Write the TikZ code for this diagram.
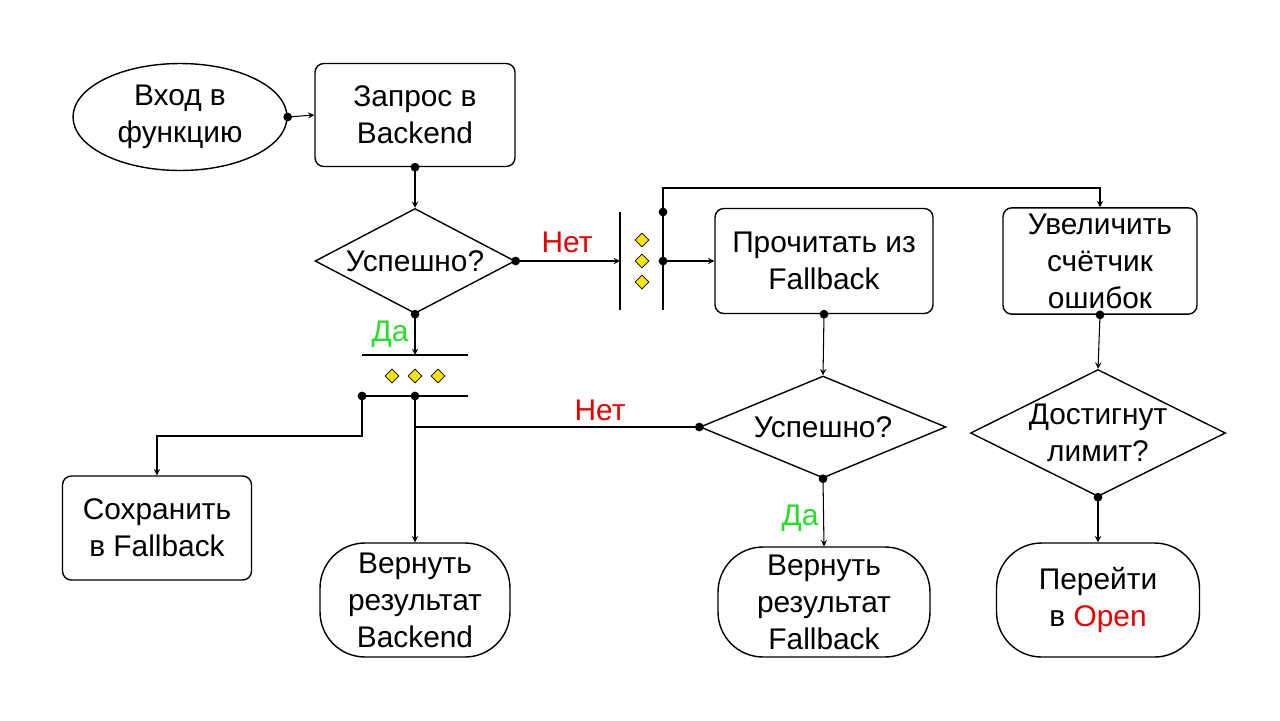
\documentclass[tikz,border=0pt]{standalone}
\usepackage{fontspec}
\setmainfont{Liberation Sans}
\usetikzlibrary{positioning,calc,shapes.geometric}
\definecolor{nored}{RGB}{230,0,0}
\definecolor{dagreen}{RGB}{40,220,40}
\definecolor{dotyel}{RGB}{250,230,0}
\tikzset{
	box/.style={draw=black,thick,rounded corners=5pt,align=center,font=\fontsize{17}{21}\selectfont},
	term/.style={draw=black,thick,rounded corners=0.9cm,align=center,font=\fontsize{17}{21}\selectfont},
	dec/.style={draw=black,thick,diamond,aspect=2,inner sep=0pt,align=center,font=\fontsize{17}{21}\selectfont},
	arr/.style={-stealth,semithick},
	ln/.style={semithick},
	dot/.style={circle,fill=black,inner sep=0pt,minimum size=5pt},
	yd/.style={diamond,draw=black,fill=dotyel,inner sep=0pt,minimum size=8pt},
	lbl/.style={font=\fontsize{17}{21}\selectfont}
}
\begin{document}
\begin{tikzpicture}[x=0.02cm,y=-0.02cm]
		\useasboundingbox (0,0) rectangle (1280,720);
		\node[draw=black,thick,ellipse,minimum width=4.28cm,minimum height=2.14cm,align=center,font=\fontsize{17}{21}\selectfont] (start) at (180,117) {Вход в\\функцию};
		\node[box,minimum width=4cm,minimum height=2.06cm] (req) at (415,115) {Запрос в\\Backend};
		\node[dec,minimum width=4cm,minimum height=2.1cm] (d1) at (415,261) {Успешно?};
		\node[box,minimum width=4.36cm,minimum height=2.1cm] (read) at (824,261) {Прочитать из\\Fallback};
		\node[box,minimum width=3.88cm,minimum height=2.1cm] (inc) at (1100,261) {Увеличить\\счётчик\\ошибок};
		\node[dec,minimum width=4.92cm,minimum height=2.04cm] (d2) at (823,427) {Успешно?};
		\node[dec,minimum width=5.1cm,minimum height=2.28cm] (d3) at (1098,433) {Достигнут\\лимит?};
		\node[box,minimum width=3.78cm,minimum height=2.08cm] (save) at (157,528) {Сохранить\\в Fallback};
		\node[term,minimum width=3.8cm,minimum height=2.28cm] (ret1) at (415,600) {Вернуть\\результат\\Backend};
		\node[term,minimum width=4.24cm,minimum height=2.2cm] (ret2) at (824,602) {Вернуть\\результат\\Fallback};
		\node[term,minimum width=4.06cm,minimum height=2.28cm] (ret3) at (1098,600) {Перейти\\в \textcolor{nored}{Open}};
		
		% fork bars
		\coordinate (fa1) at (620,212);
		\coordinate (fa2) at (620,310);
		\coordinate (fb1) at (663,212);
		\coordinate (fb2) at (663,310);
		\draw[thick] (fa1)--(fa2);
		\draw[thick] (fb1)--(fb2);
		\foreach \y in {240,261,282} \node[yd] at (642,\y) {};
		\coordinate (ha1) at (362,355);
		\coordinate (ha2) at (468,355);
		\coordinate (hb1) at (362,396);
		\coordinate (hb2) at (468,396);
		\draw[thick] (ha1)--(ha2);
		\draw[thick] (hb1)--(hb2);
		\foreach \x in {392,415,438} \node[yd] at (\x,376) {};
		
		% connectors
		\draw[arr] (start.east)--(req.west);
		\node[dot] at (start.east) {};
		\draw[arr] (req.south)--(d1.north);
		\node[dot] at (req.south) {};
		\draw[arr] (d1.east)--(fa1|-d1.east);
		\node[dot] at (d1.east) {};
		\node[lbl,text=nored] at (567,242) {Нет};
		\draw[arr] (fb1|-read.west)--(read.west);
		\node[dot] at (fb1|-read.west) {};
		\draw[arr] (fb1)--(663,188)-|(inc.north);
		\node[dot] at (fb1) {};
		\draw[arr] (d1.south)--(d1.south|-ha1);
		\node[dot] at (d1.south) {};
		\node[lbl,text=dagreen] at (390,334) {Да};
		\draw[arr] (d1.south|-hb1)--(ret1.north);
		\node[dot] at (d1.south|-hb1) {};
		\draw[arr] (hb1)--(362,436)-|(save.north);
		\node[dot] at (hb1) {};
		\draw[ln] (d2.west)--(d1.south|-d2.west);
		\node[dot] at (d2.west) {};
		\node[lbl,text=nored] at (600,410) {Нет};
		\draw[arr] (read.south)--(d2.north);
		\node[dot] at (read.south) {};
		\draw[arr] (d2.south)--(ret2.north);
		\node[dot] at (d2.south) {};
		\node[lbl,text=dagreen] at (800,518) {Да};
		\draw[arr] (inc.south)--(d3.north);
		\node[dot] at (inc.south) {};
		\draw[arr] (d3.south)--(ret3.north);
		\node[dot] at (d3.south) {};
	\end{tikzpicture}
\end{document}
